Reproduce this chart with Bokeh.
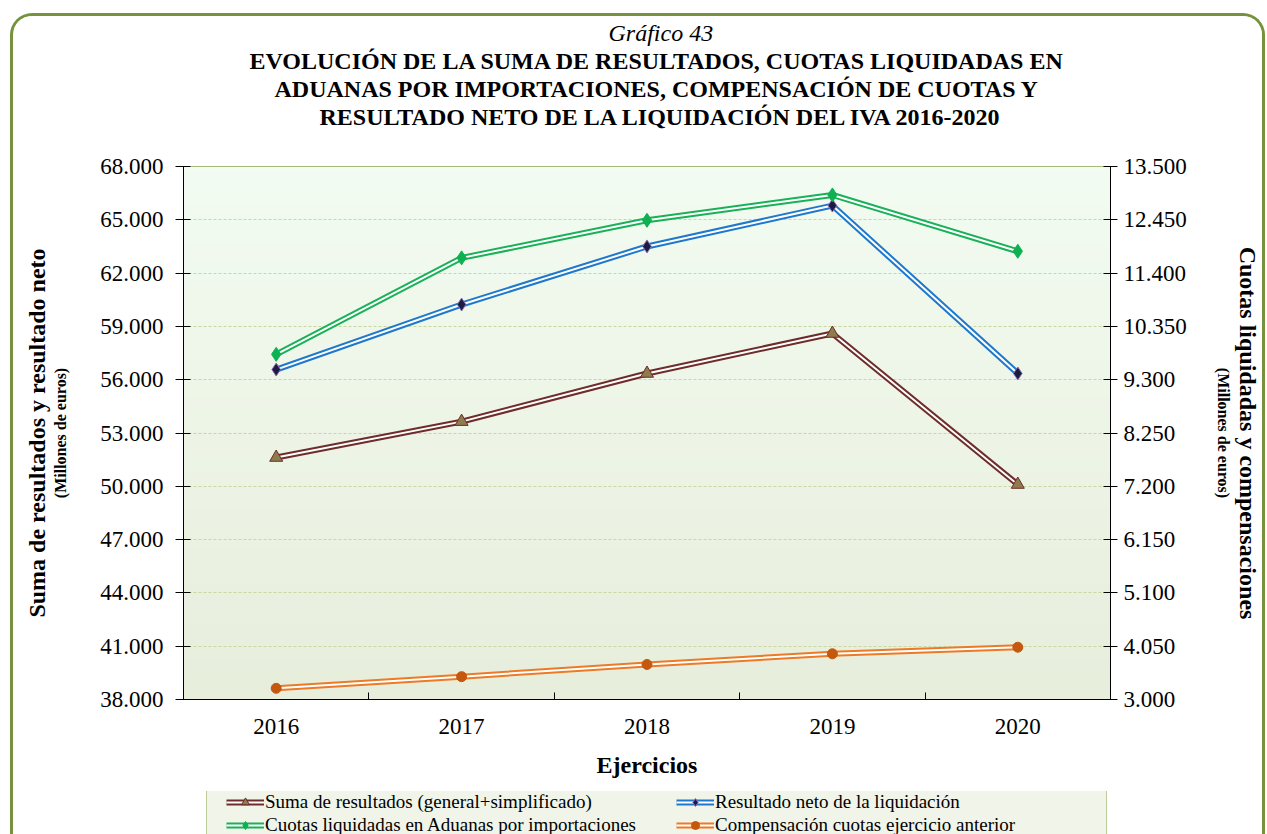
import numpy as np
from bokeh.plotting import figure
from bokeh.layouts import column
from bokeh.models import Range1d, LinearAxis, FixedTicker, Legend, LegendItem, Title
from bokeh.embed import file_html
from bokeh.resources import INLINE

# ---------------- data ----------------
years = ["2016", "2017", "2018", "2019", "2020"]
suma_resultados = [51620, 53640, 56350, 58600, 50100]      # left axis
resultado_neto = [56570, 60230, 63500, 65800, 56350]       # left axis
cuotas_aduanas = [9800, 11700, 12440, 12940, 11830]        # right axis
compensacion = [3220, 3450, 3690, 3900, 4030]              # right axis

left_ticks = [38000, 41000, 44000, 47000, 50000, 53000, 56000, 59000, 62000, 65000, 68000]
right_ticks = [3000, 4050, 5100, 6150, 7200, 8250, 9300, 10350, 11400, 12450, 13500]

labels = [
    "Suma de resultados (general+simplificado)",
    "Resultado neto de la liquidación",
    "Cuotas liquidadas en Aduanas por importaciones",
    "Compensación cuotas ejercicio anterior",
]

FONT = "Liberation Serif"


def fmt(v):
    return f"{v:,}".replace(",", ".")


xs = [i + 0.5 for i in range(len(years))]
bounds = [float(i) for i in range(len(years) + 1)]

W = 1249
p = figure(
    width=W, height=775,
    x_range=Range1d(0, len(years)),
    y_range=Range1d(left_ticks[0], left_ticks[-1]),
    output_backend="svg", toolbar_location=None,
    min_border_left=170, min_border_right=149, min_border_top=150, min_border_bottom=92,
    border_fill_color="white", background_fill_color="#EEF6EA",
    outline_line_color="#8CA450", outline_line_width=1,
)
p.extra_y_ranges = {"right": Range1d(right_ticks[0], right_ticks[-1])}

# background gradient (top light mint -> bottom light olive)
n = 120
img = np.empty((n, 1), dtype=np.uint32)
view = img.view(dtype=np.uint8).reshape((n, 1, 4))
top = np.array([0xF3, 0xFC, 0xF2])
bot = np.array([0xE8, 0xEE, 0xDC])
for i in range(n):
    t = i / (n - 1)
    c = bot * (1 - t) + top * t
    view[i, 0, 0:3] = c.astype(np.uint8)
    view[i, 0, 3] = 255
p.image_rgba(image=[img], x=p.x_range.start, y=p.y_range.start,
             dw=p.x_range.end - p.x_range.start, dh=p.y_range.end - p.y_range.start,
             level="image")

# grid
p.xgrid.visible = False
p.ygrid.ticker = FixedTicker(ticks=left_ticks)
p.ygrid.grid_line_color = "#C9D89E"
p.ygrid.grid_line_dash = "3 2"
p.ygrid.grid_line_width = 1


def style_label(ax, size, standoff):
    ax.axis_label_text_font = FONT
    ax.axis_label_text_font_size = size
    ax.axis_label_text_font_style = "bold"
    ax.axis_label_text_color = "black"
    ax.axis_label_standoff = standoff


# left axis
ya = p.yaxis[0]
ya.ticker = FixedTicker(ticks=left_ticks)
ya.major_label_overrides = {v: fmt(v) for v in left_ticks}
ya.major_tick_in = 7
ya.major_tick_out = 8
ya.minor_tick_line_color = None
ya.major_label_standoff = 12
ya.major_label_text_font = FONT
ya.major_label_text_font_size = "23px"
ya.major_label_text_color = "black"
ya.axis_line_color = "black"
ya.major_tick_line_color = "black"
ya.axis_label = "(Millones de euros)"
style_label(ya, "16px", 28)

# right axis
yr = LinearAxis(y_range_name="right", ticker=FixedTicker(ticks=right_ticks))
yr.major_label_overrides = {v: fmt(v) for v in right_ticks}
yr.major_tick_in = 7
yr.major_tick_out = 7
yr.minor_tick_line_color = None
yr.major_label_standoff = 6
yr.major_label_text_font = FONT
yr.major_label_text_font_size = "23px"
yr.major_label_text_color = "black"
yr.axis_line_color = "black"
yr.major_tick_line_color = "black"
yr.axis_label = "(Millones de euros)"
style_label(yr, "16px", 25)
p.add_layout(yr, "right")

# bottom axis
xa = p.xaxis[0]
xa.ticker = FixedTicker(ticks=xs, minor_ticks=bounds)
xa.major_label_overrides = {x: y for x, y in zip(xs, years)}
xa.major_tick_in = 0
xa.major_tick_out = 0
xa.minor_tick_in = 7
xa.minor_tick_out = 0
xa.minor_tick_line_color = "black"
xa.major_label_standoff = 19
xa.major_label_text_font = FONT
xa.major_label_text_font_size = "23px"
xa.major_label_text_color = "black"
xa.axis_line_color = "black"
xa.axis_label = "Ejercicios"
style_label(xa, "24px", 15)


def series(fig, xv, ys, color, marker, size, fill, edge, rng="default"):
    r1 = fig.line(xv, ys, line_color=color, line_width=6, y_range_name=rng)
    r2 = fig.line(xv, ys, line_color="white", line_width=2, y_range_name=rng)
    r3 = fig.scatter(xv, ys, marker=marker, size=size, fill_color=fill, line_color=edge,
                     line_width=1, y_range_name=rng)
    return [r1, r2, r3]


styles = [
    ("#6E2C2A", "triangle", 13, "#8E7C4E", "#6E2C2A"),
    ("#1E78CC", "diamond", 13, "#1B1C44", "#8A6CB0"),
    ("#19B158", "diamond", 14, "#0DB152", "#0DB152"),
    ("#EC7A26", "circle", 10, "#C4580F", "#C4580F"),
]
series_data = [suma_resultados, resultado_neto, cuotas_aduanas, compensacion]
ranges = ["default", "default", "right", "right"]
for ys, st, rng in zip(series_data, styles, ranges):
    series(p, xs, ys, *st, rng=rng)

# titles: p.title on top, added ones stack from the frame outward
p.title.text = "Gráfico 43"
p.title.align = "left"
p.title.offset = 425
p.title.text_font = FONT
p.title.text_font_size = "24px"
p.title.text_font_style = "italic"
p.title.text_color = "black"
p.title.text_line_height = 1.1
p.title.standoff = 0

# blank spacer between the frame and the title block
p.add_layout(Title(text=" ", text_font=FONT, text_font_size="31px",
                   text_line_height=1.1, standoff=0), "above")

title_lines = [
    ("RESULTADO NETO DE LA LIQUIDACIÓN DEL IVA 2016-2020", 136),
    ("ADUANAS POR IMPORTACIONES, COMPENSACIÓN DE CUOTAS Y", 91),
    ("EVOLUCIÓN DE LA SUMA DE RESULTADOS, CUOTAS LIQUIDADAS EN", 66),
]
for txt, off in title_lines:
    p.add_layout(Title(text=txt, align="left", offset=off, text_font=FONT,
                       text_font_size="24px", text_font_style="bold", text_color="black",
                       text_line_height=1.1, standoff=0), "above")

t_left = Title(text="Suma de resultados y resultado neto", align="center", text_font=FONT,
               text_font_size="24px", text_font_style="bold", text_color="black", standoff=0)
p.add_layout(t_left, "left")

t_right = Title(text="Cuotas liquidadas y compensaciones", align="center", text_font=FONT,
                text_font_size="24px", text_font_style="bold", text_color="black", standoff=0)
p.add_layout(t_right, "right")

# ---------------- legend panel (same frame borders as the chart) ----------------
lf = figure(
    width=W, height=43, x_range=Range1d(-10, -9), y_range=Range1d(-10, -9),
    output_backend="svg", toolbar_location=None,
    x_axis_location=None, y_axis_location=None,
    min_border_left=170, min_border_right=149, min_border_top=0, min_border_bottom=0,
    border_fill_color="white", background_fill_color="white",
    outline_line_color=None,
)
lf.xgrid.visible = False
lf.ygrid.visible = False
# same series drawn outside the visible range: only used for the legend glyphs
lrs = [series(lf, xs, ys, *st) for ys, st in zip(series_data, styles)]
dummy = lf.scatter(xs, suma_resultados, size=1, fill_alpha=0, line_alpha=0)

box = Legend(items=[LegendItem(label=" ", renderers=[dummy])], location=(23, -7),
             padding=0, margin=0, glyph_width=1, glyph_height=50, label_height=50,
             label_width=898, label_standoff=0, label_text_font_size="2px",
             background_fill_color="#F1F4E9", background_fill_alpha=1,
             border_line_color="#8CA450", border_line_width=1)
lf.add_layout(box)

common = dict(padding=0, margin=0, spacing=1, glyph_width=38, glyph_height=20,
              label_height=20, label_standoff=1, label_text_font=FONT,
              label_text_font_size="19px", label_text_color="black",
              background_fill_alpha=0, border_line_alpha=0)
leg1 = Legend(items=[LegendItem(label=labels[0], renderers=lrs[0]),
                     LegendItem(label=labels[2], renderers=lrs[2])],
              location=(43, -2), **common)
leg2 = Legend(items=[LegendItem(label=labels[1], renderers=lrs[1]),
                     LegendItem(label=labels[3], renderers=lrs[3])],
              location=(493, -2), **common)
lf.add_layout(leg1)
lf.add_layout(leg2)

layout = column(p, lf, spacing=0)
layout.styles = {
    "border": "3px solid #76923C",
    "border-bottom": "none",
    "border-radius": "22px 22px 0 0",
    "overflow": "hidden",
    "margin-left": "10px",
    "margin-top": "13px",
}

open("out.html", "w").write(file_html(layout, INLINE))
